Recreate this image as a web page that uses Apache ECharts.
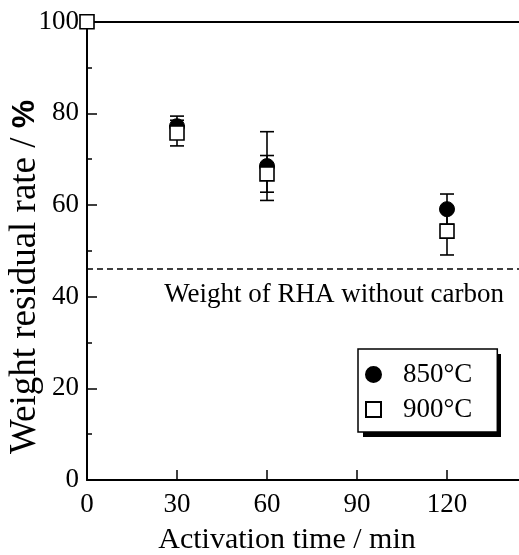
<!DOCTYPE html>
<html><head><meta charset="utf-8">
<script src="https://cdn.jsdelivr.net/npm/echarts@6/dist/echarts.min.js"></script>
<style>html,body{margin:0;padding:0;background:#fff}#c{width:519px;height:555px}</style>
</head><body><div id="c"></div>
<script>
// ---- data ----
const times850 = [30, 60, 120];
const rate850 = [77.2, 68.5, 59.1];
const err850 = [2.2, 7.5, 3.3];
const times900 = [0, 30, 60, 120];
const rate900 = [100, 75.7, 66.8, 54.3];
const err900 = [0, 2.8, 4.0, 5.2];
const carbonFreeWeight = 46;
const xTicks = [0, 30, 60, 90, 120];
const yTicks = [0, 20, 40, 60, 80, 100];
const seriesNames = ['850°C', '900°C'];
const xTitle = 'Activation time / min';
const yTitle = 'Weight residual rate / ';
const refLabel = 'Weight of RHA without carbon';

const FONT = 'Liberation Serif';
const chart = echarts.init(document.getElementById('c'), null, {renderer: 'canvas'});

function errData(xs, ys, es) {
  return xs.map((x, i) => [x, ys[i] - es[i], ys[i] + es[i]]).filter(d => d[2] > d[1]);
}
function errRender(params, api) {
  const x = api.value(0), lo = api.value(1), hi = api.value(2);
  const pLo = api.coord([x, lo]), pHi = api.coord([x, hi]);
  const w = 7;
  const st = {stroke: '#000', lineWidth: 1.6};
  return {type: 'group', children: [
    {type: 'line', shape: {x1: pLo[0], y1: pLo[1], x2: pHi[0], y2: pHi[1]}, style: st},
    {type: 'line', shape: {x1: pLo[0]-w, y1: pLo[1], x2: pLo[0]+w, y2: pLo[1]}, style: st},
    {type: 'line', shape: {x1: pHi[0]-w, y1: pHi[1], x2: pHi[0]+w, y2: pHi[1]}, style: st}
  ]};
}

chart.setOption({
  animation: false,
  backgroundColor: '#fff',
  grid: {left: 87, right: 0, top: 21.7, bottom: 75, containLabel: false, outerBoundsMode: 'none'},
  xAxis: [{
    type: 'value', min: 0, max: 144, interval: 30,
    name: xTitle, nameLocation: 'middle', nameGap: 45, nameMoveOverlap: false,
    nameTextStyle: {fontFamily: FONT, fontSize: 30, color: '#000', padding: [0, 32, 0, 0]},
    axisLine: {show: true, onZero: false, lineStyle: {color: '#000', width: 2}},
    axisTick: {show: true, inside: true, length: 10, customValues: xTicks, lineStyle: {color: '#000', width: 1.5}},
    axisLabel: {fontFamily: FONT, fontSize: 27, color: '#000', margin: 11, customValues: xTicks},
    splitLine: {show: false}
  }, {
    type: 'value', position: 'top', min: 0, max: 144,
    axisLine: {show: true, onZero: false, lineStyle: {color: '#000', width: 2}},
    axisTick: {show: false}, axisLabel: {show: false}, splitLine: {show: false}
  }],
  yAxis: {
    type: 'value', min: 0, max: 100, interval: 20,
    name: yTitle + '{p|%}', nameLocation: 'middle', nameGap: 43, nameRotate: 90, nameMoveOverlap: false,
    nameTextStyle: {fontFamily: FONT, fontSize: 37, color: '#000', padding: [0, 52, 0, 0],
      rich: {p: {fontFamily: 'Liberation Sans', fontWeight: 'bold', fontSize: 32, color: '#000'}}},
    axisLine: {show: true, onZero: false, lineStyle: {color: '#000', width: 2}},
    axisTick: {show: true, inside: true, length: 10, lineStyle: {color: '#000', width: 1.5}},
    minorTick: {show: true, splitNumber: 2, length: 5, lineStyle: {color: '#000', width: 1.5}},
    axisLabel: {fontFamily: FONT, fontSize: 27, color: '#000', margin: 8,
      formatter: v => yTicks.includes(v) ? String(v) : ''},
    splitLine: {show: false}
  },
  legend: {
    orient: 'vertical', left: 358, top: 349, z: 10,
    data: seriesNames,
    backgroundColor: '#fff', borderColor: '#000', borderWidth: 1.5, borderRadius: 0,
    padding: [12, 25, 9, 7], itemGap: 8, itemWidth: 15, itemHeight: 15,
    textStyle: {fontFamily: FONT, fontSize: 27, color: '#000', lineHeight: 27, padding: [0, 0, 0, 17]}
  },
  graphic: [{type: 'rect', left: 363, top: 354, z: 9, shape: {width: 138, height: 83}, style: {fill: '#000'}, silent: true}],
  series: [
    {type: 'custom', name: 'err850', renderItem: errRender, data: errData(times850, rate850, err850), z: 1, clip: false, silent: true},
    {type: 'custom', name: 'err900', renderItem: errRender, data: errData(times900, rate900, err900), z: 1, clip: false, silent: true},
    {type: 'line', name: 'ref', data: [], silent: true,
      markLine: {symbol: 'none', silent: true,
        lineStyle: {color: '#000', type: [6, 4], width: 1.5},
        label: {show: true, position: 'insideEndBottom', formatter: refLabel, fontFamily: FONT, fontSize: 27, color: '#000', distance: [15, 12]},
        data: [{yAxis: carbonFreeWeight}]}},
    {type: 'scatter', name: seriesNames[0], symbol: 'circle', symbolSize: 15, z: 3, clip: false,
      itemStyle: {color: '#000', borderColor: '#000', borderWidth: 1, opacity: 1},
      data: times850.map((t, i) => [t, rate850[i]])},
    {type: 'scatter', name: seriesNames[1], symbol: 'rect', symbolSize: 14, z: 4, clip: false,
      itemStyle: {color: '#fff', borderColor: '#000', borderWidth: 1.6, opacity: 1},
      data: times900.map((t, i) => [t, rate900[i]])}
  ]
});
</script></body></html>
